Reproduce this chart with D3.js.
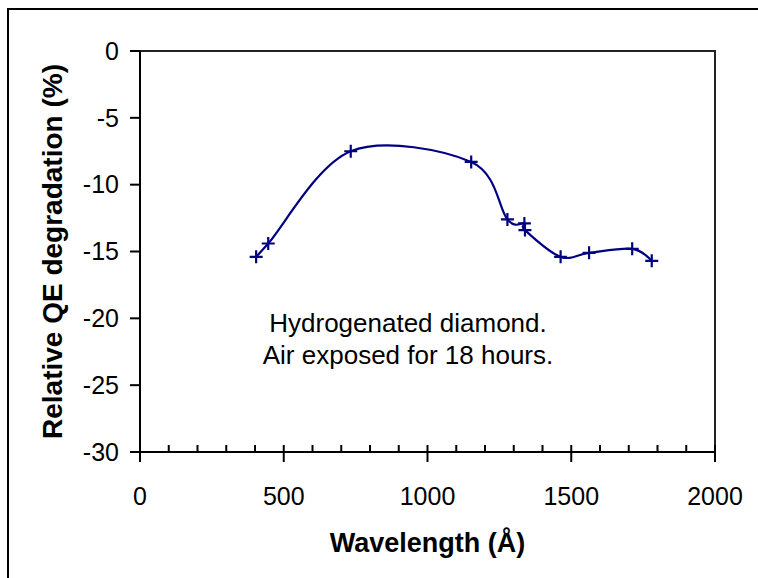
<!DOCTYPE html>
<html>
<head>
<meta charset="utf-8">
<script src="https://cdn.jsdelivr.net/npm/d3@7"></script>
<style>
  html, body { margin: 0; padding: 0; background: #fff; overflow: hidden; }
  svg { display: block; }
  text { font-family: Arial, "Liberation Sans", sans-serif; fill: #000; }
</style>
</head>
<body>
<div id="chart"></div>
<script>
// data
var wavelength = [404, 446, 733, 1152, 1278, 1337, 1339, 1463, 1562, 1712, 1780];
var degradation = [-15.4, -14.4, -7.5, -8.3, -12.6, -12.9, -13.4, -15.4, -15.1, -14.8, -15.7];
var xTicks = [0, 500, 1000, 1500, 2000];
var yTicks = [0, -5, -10, -15, -20, -25, -30];
var noteLines = ["Hydrogenated diamond.", "Air exposed for 18 hours."];

var W = 758, H = 578;
var plot = {left: 140, right: 715, top: 51, bottom: 452};

var svg = d3.select("#chart")
    .append("svg")
    .attr("width", W)
    .attr("height", H);

// outer chart frame (runs past the window on right and bottom)
svg.append("rect")
    .attr("x", 8).attr("y", 9)
    .attr("width", 780).attr("height", 600)
    .attr("fill", "none")
    .attr("stroke", "#000")
    .attr("stroke-width", 2);

var x = d3.scaleLinear().domain([0, 2000]).range([plot.left, plot.right]);
var y = d3.scaleLinear().domain([-30, 0]).range([plot.bottom, plot.top]);

// plot area border
svg.append("rect")
    .attr("x", plot.left).attr("y", plot.top)
    .attr("width", plot.right - plot.left)
    .attr("height", plot.bottom - plot.top)
    .attr("fill", "none")
    .attr("stroke", "#222")
    .attr("stroke-width", 2);

// x axis: minor ticks inside, major ticks crossing
var xMinor = d3.range(0, 2001, 100);
svg.append("g")
    .selectAll("line")
    .data(xMinor)
    .join("line")
        .attr("x1", d => x(d)).attr("x2", d => x(d))
        .attr("y1", plot.bottom - 7)
        .attr("y2", d => d % 500 === 0 ? plot.bottom + 10 : plot.bottom)
        .attr("stroke", "#000").attr("stroke-width", 2);

svg.append("line")
    .attr("x1", plot.left).attr("x2", plot.right)
    .attr("y1", plot.bottom).attr("y2", plot.bottom)
    .attr("stroke", "#000").attr("stroke-width", 2);

svg.append("g")
    .selectAll("text")
    .data(xTicks)
    .join("text")
        .attr("x", d => x(d))
        .attr("y", 505)
        .attr("text-anchor", "middle")
        .style("font-size", "25px")
        .text(d => d);

// y axis
svg.append("line")
    .attr("x1", plot.left).attr("x2", plot.left)
    .attr("y1", plot.top).attr("y2", plot.bottom)
    .attr("stroke", "#000").attr("stroke-width", 2);

svg.append("g")
    .selectAll("line")
    .data(yTicks)
    .join("line")
        .attr("x1", plot.left - 10).attr("x2", plot.left)
        .attr("y1", d => y(d)).attr("y2", d => y(d))
        .attr("stroke", "#000").attr("stroke-width", 2);

svg.append("g")
    .selectAll("text")
    .data(yTicks)
    .join("text")
        .attr("x", 119)
        .attr("y", d => y(d))
        .attr("dy", "0.35em")
        .attr("text-anchor", "end")
        .style("font-size", "25px")
        .text(d => d);

// axis titles
svg.append("text")
    .attr("x", x(1000))
    .attr("y", 552)
    .attr("text-anchor", "middle")
    .style("font-size", "27px")
    .style("font-weight", "bold")
    .text("Wavelength (\u00C5)");

svg.append("text")
    .attr("transform", "translate(62," + ((plot.top + plot.bottom) / 2) + ") rotate(-90)")
    .attr("text-anchor", "middle")
    .style("font-size", "28px")
    .style("font-weight", "bold")
    .text("Relative QE degradation (%)");

// smoothed line
var pts = wavelength.map((w, i) => [w, degradation[i]]);
var line = d3.line()
    .x(d => x(d[0]))
    .y(d => y(d[1]))
    .curve(d3.curveCardinal.tension(0));

svg.append("path")
    .datum(pts)
    .attr("d", line)
    .attr("fill", "none")
    .attr("stroke", "#000080")
    .attr("stroke-width", 2.2);

// plus markers
svg.append("g")
    .selectAll("path")
    .data(pts)
    .join("path")
        .attr("transform", d => "translate(" + x(d[0]) + "," + y(d[1]) + ")")
        .attr("d", "M-6.5,0H6.5M0,-6.5V6.5")
        .attr("stroke", "#000080")
        .attr("stroke-width", 2.2)
        .attr("fill", "none");

// annotation
svg.append("text")
    .attr("x", 408)
    .attr("y", 332)
    .attr("text-anchor", "middle")
    .style("font-size", "26px")
    .selectAll("tspan")
    .data(noteLines)
    .join("tspan")
        .attr("x", 408)
        .attr("dy", (d, i) => i === 0 ? 0 : 32)
        .text(d => d);
</script>
</body>
</html>
